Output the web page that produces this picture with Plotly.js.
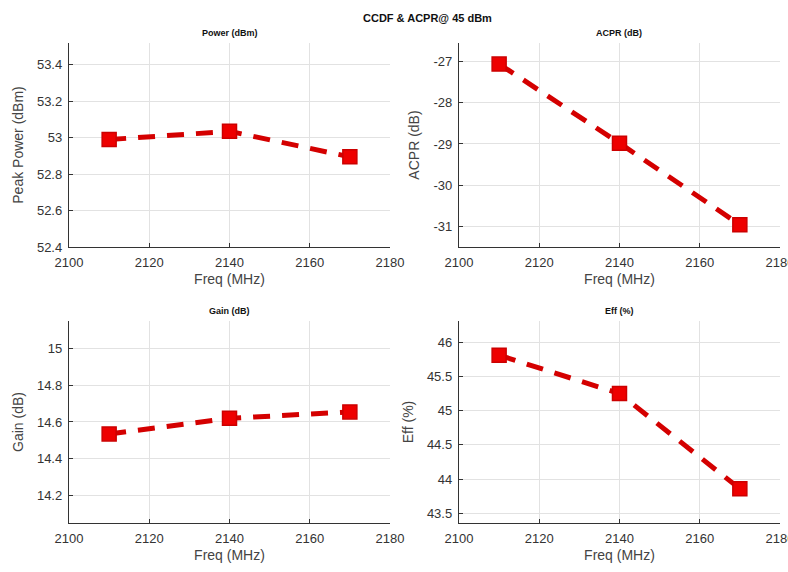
<!DOCTYPE html>
<html><head><meta charset="utf-8">
<script src="https://cdn.plot.ly/plotly-3.0.1.min.js"></script>
<style>html,body{margin:0;padding:0;background:#fff}#chart{width:788px;height:572px}</style>
</head><body><div id="chart"></div>
<script>
const freq = [2110, 2140, 2170];
const peakPower = [52.99, 53.035, 52.895];
const acpr = [-27.06, -28.98, -30.96];
const gain = [14.535, 14.62, 14.655];
const eff = [45.81, 45.25, 43.86];
const xTicks = [2100, 2120, 2140, 2160, 2180];
const panelTitles = ['Power (dBm)', 'ACPR (dB)', 'Gain (dB)', 'Eff (%)'];
const yTitles = ['Peak Power (dBm)', 'ACPR (dB)', 'Gain (dB)', 'Eff (%)'];
const mainTitle = 'CCDF & ACPR@ 45 dBm';

const series = [peakPower, acpr, gain, eff];
const yRanges = [[52.4, 53.52], [-31.5, -26.55], [14.05, 15.15], [43.36, 46.31]];
const yTickVals = [[52.4,52.6,52.8,53,53.2,53.4],[-31,-30,-29,-28,-27],[14.2,14.4,14.6,14.8,15],[43.5,44,44.5,45,45.5,46]];
const xDomains = [[0.0876,0.4949],[0.5825,0.9898],[0.0876,0.4949],[0.5825,0.9898]];
const yDomains = [[0.5682,0.9248],[0.5682,0.9248],[0.0857,0.4388],[0.0857,0.4388]];

const font = 'Liberation Sans, Arial, sans-serif';
const traces = [];
const layout = {
  width: 788, height: 572,
  margin: {l:0, r:0, t:0, b:0},
  paper_bgcolor: '#fff', plot_bgcolor: '#fff',
  showlegend: false,
  font: {family: font, color: '#333'},
  annotations: [{
    text: '<b>' + mainTitle + '</b>', xref: 'paper', yref: 'paper',
    x: 0.543, y: 1 - 18/572, xanchor: 'center', yanchor: 'middle',
    showarrow: false, font: {size: 11, color: '#111', family: font}
  }]
};

for (let i = 0; i < 4; i++) {
  const s = i === 0 ? '' : String(i + 1);
  traces.push({
    x: freq, y: series[i], xaxis: 'x' + s, yaxis: 'y' + s,
    type: 'scatter', mode: 'lines+markers',
    line: {color: '#d40000', width: 5, dash: '17px,12px'},
    marker: {symbol: 'square', size: 14, color: '#ee0000', line: {color: '#cc0000', width: 1.5}}
  });
  layout['xaxis' + s] = {
    domain: xDomains[i], anchor: 'y' + s, range: [2100, 2180],
    tickvals: xTicks, ticktext: xTicks.map(String),
    ticklabeloverflow: 'allow', ticklabelstandoff: 3,
    showgrid: true, gridcolor: '#e2e2e2', gridwidth: 1,
    zeroline: false, showline: true, linecolor: '#333', linewidth: 1.2,
    ticks: 'inside', ticklen: 4, tickcolor: '#333',
    tickfont: {size: 13, color: '#333', family: font},
    title: {text: 'Freq (MHz)', font: {size: 14, color: '#444', family: font}, standoff: 5}
  };
  layout['yaxis' + s] = {
    domain: yDomains[i], anchor: 'x' + s, range: yRanges[i],
    tickvals: yTickVals[i], ticktext: yTickVals[i].map(String),
    ticklabeloverflow: 'allow', ticklabelstandoff: 3,
    showgrid: true, gridcolor: '#e2e2e2', gridwidth: 1,
    zeroline: false, showline: true, linecolor: '#333', linewidth: 1.2,
    ticks: 'inside', ticklen: 4, tickcolor: '#333',
    tickfont: {size: 13, color: '#333', family: font},
    title: {text: yTitles[i], font: {size: 14, color: '#444', family: font}, standoff: 10}
  };
  layout.annotations.push({
    text: '<b>' + panelTitles[i] + '</b>', xref: 'paper', yref: 'paper',
    x: (xDomains[i][0] + xDomains[i][1]) / 2, y: yDomains[i][1] + 10/572,
    xanchor: 'center', yanchor: 'middle', showarrow: false,
    font: {size: 9, color: '#111', family: font}
  });
}

Plotly.newPlot('chart', traces, layout, {displayModeBar: false, staticPlot: true});
</script></body></html>
